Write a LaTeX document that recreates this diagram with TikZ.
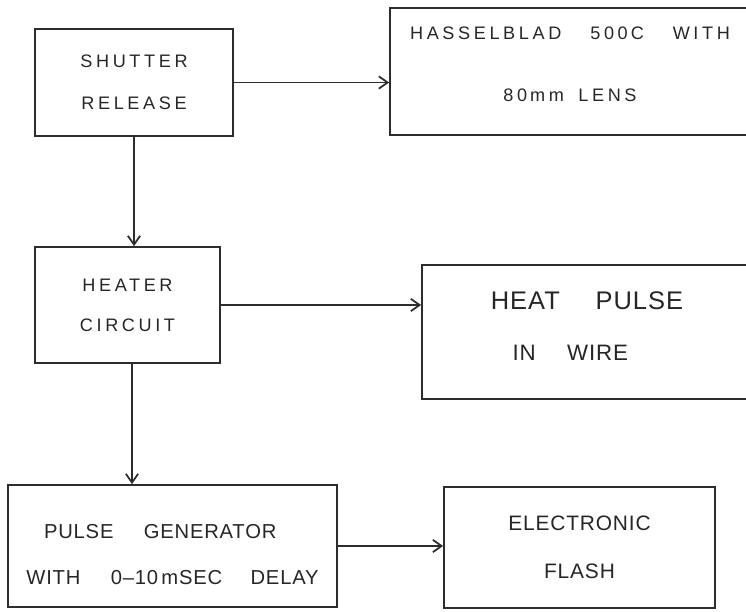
\documentclass[tikz,border=0pt]{standalone}
\usepackage{fontspec}
\usepackage{xcolor}
\usepackage{tikz}
\usetikzlibrary{arrows.meta}
\setmainfont{Liberation Sans}
\newfontfamily\widelettering[LetterSpace=20]{Liberation Sans}
\newfontfamily\lettering[LetterSpace=4]{Liberation Sans}
\definecolor{ink}{RGB}{45,45,45}
\newcommand{\raiseby}[2]{\raisebox{#1}[\height][\depth]{#2}}

\begin{document}
\begin{tikzpicture}[x=0.02cm,y=-0.02cm,>={Straight Barb[length=5pt,width=7pt]},
     blk/.style={rectangle,draw=ink,line width=1pt,inner sep=0pt,align=center,text=black!85},
     link/.style={->,draw=ink,line width=1pt}]
    \clip (0,0) rectangle (746,611);
    \node[blk,minimum width=3.96cm,minimum height=2.14cm,font=\widelettering\fontsize{10.3}{23.6}\selectfont] (shutter) at (134,82.5) {SHUTTER\\RELEASE};
    \node[blk,minimum width=7.2cm,minimum height=2.54cm,font=\widelettering\fontsize{10.3}{35}\selectfont] (camera) at (570,71.5) {\raiseby{4pt}{HASSELBLAD\hspace{1.6em}500\,C\hspace{1.6em}WITH}\\\raiseby{4pt}{80\,mm\hspace{0.8em}LENS}};
    \node[blk,minimum width=3.7cm,minimum height=2.32cm,font=\widelettering\fontsize{10.3}{22.7}\selectfont] (heater) at (127.5,305) {HEATER\\CIRCUIT};
    \node[blk,minimum width=6.6cm,minimum height=2.68cm,font=\lettering\fontsize{14.5}{28.9}\selectfont] (heatpulse) at (587,332) {\raiseby{3.4pt}{HEAT\hspace{1.4em}PULSE}\\\raiseby{3.4pt}{\fontsize{12.7}{28.9}\selectfont IN\hspace{1.4em}WIRE\hspace{19pt}\mbox{}}};
    \node[blk,minimum width=6.58cm,minimum height=2.44cm,font=\lettering\fontsize{11.5}{26}\selectfont] (pulsegen) at (172.5,546) {\raiseby{-5pt}{PULSE\hspace{1.5em}GENERATOR\hspace{14pt}\mbox{}}\\\raiseby{-5pt}{WITH\hspace{1.5em}0\textendash 10\,mSEC\hspace{1.4em}DELAY}};
    \node[blk,minimum width=5.42cm,minimum height=2.42cm,font=\lettering\fontsize{11.9}{27.2}\selectfont] (flash) at (579.5,547.5) {ELECTRONIC\\FLASH};
    \draw[link] (shutter.east) -- (shutter.east -| camera.west);
    \draw[link] (shutter.south) -- (heater.north -| shutter.south);
    \draw[link] (heater.east) -- (heater.east -| heatpulse.west);
    \draw[link] ([xshift=0.09cm]heater.south) -- ([xshift=0.09cm]heater.south |- pulsegen.north);
    \draw[link] (pulsegen.east) -- (pulsegen.east -| flash.west);
\end{tikzpicture}
\end{document}
